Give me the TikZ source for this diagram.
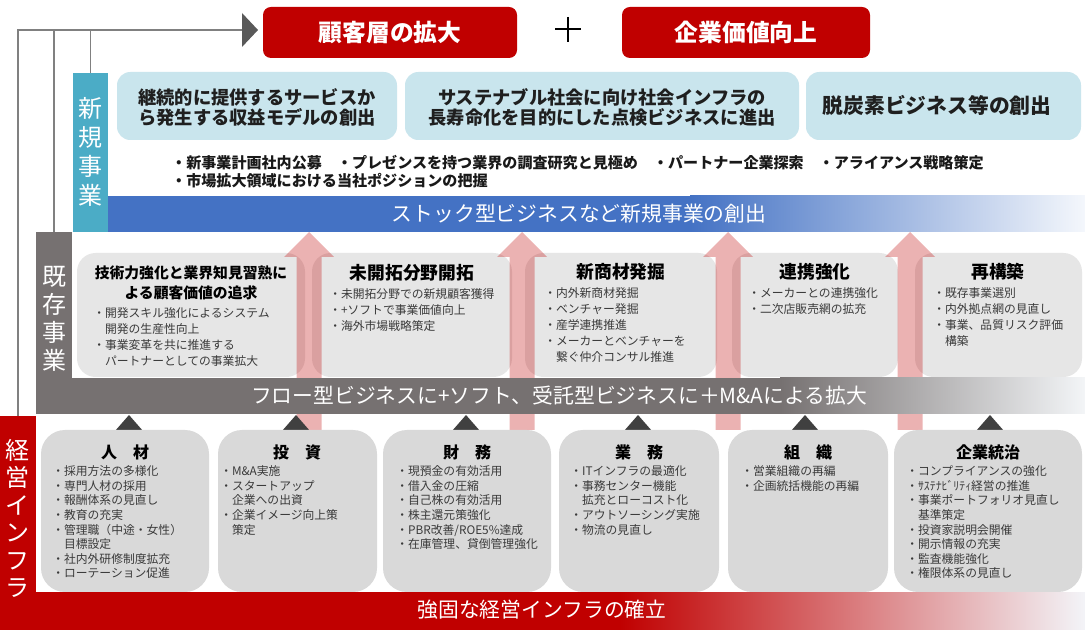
\documentclass[tikz,border=0pt]{standalone}
\usepackage{fontspec}
\setmainfont{Noto Sans CJK JP}
\usetikzlibrary{fit}
\definecolor{cred}{HTML}{C00000}
\definecolor{cteal}{HTML}{4BACC6}
\definecolor{clblue}{HTML}{C9E5ED}
\definecolor{cblue}{HTML}{4472C4}
\definecolor{cblueend}{HTML}{F4F7FC}
\definecolor{cgray}{HTML}{767171}
\definecolor{cgrayend}{HTML}{F3F5F7}
\definecolor{credend}{HTML}{F3F4F8}
\definecolor{cboxa}{HTML}{E6E6E6}
\definecolor{cboxb}{HTML}{D9D9D9}
\definecolor{cline}{HTML}{808080}
\definecolor{chead}{HTML}{595959}
\definecolor{ctri}{HTML}{404040}
\definecolor{ctext}{HTML}{3A3A3A}
\newcommand{\fsz}[2]{\fontsize{#1}{#2}\selectfont}
\newcommand{\pinkarrow}[1]{\fill[pinkar] (#1-12.5,430) -- (#1-12.5,257) -- (#1-25,257) -- (#1,232) -- (#1+25,257) -- (#1+12.5,257) -- (#1+12.5,430) -- cycle;}
\newcommand{\darktri}[1]{\fill[ctri] (#1,415) -- (#1+14,431) -- (#1-14,431) -- cycle;}
\begin{document}
\begin{tikzpicture}[x=0.75pt,y=-0.75pt,
  gline/.style={draw=cline, line width=1.1pt},
  fitbox/.style={inner sep=0pt, outer sep=0pt},
  goalbox/.style={fitbox, fill=cred, rounded corners=6pt},
  goaltext/.style={font={\bfseries\fsz{17.8}{20}}, text=white, inner sep=0pt},
  lbbox/.style={fitbox, fill=clblue, rounded corners=10pt},
  lbtext/.style={font={\bfseries\fsz{13.7}{15}}, text=black!88, align=center, inner sep=0pt},
  sidetext/.style={font=\fsz{18}{21}, text=white, align=center, inner sep=0pt},
  bandtext/.style={font=\fsz{15.6}{18}, text=white, inner sep=0pt},
  exbox/.style={fitbox, fill=cboxa, rounded corners=14pt},
  exhead/.style={font={\bfseries\fsz{13.3}{16}}, text=black, align=center, inner sep=0pt},
  exbul/.style={font=\fsz{8.85}{12}, text=ctext, align=left, inner sep=0pt, anchor=north west},
  inbox/.style={fitbox, fill=cboxb, rounded corners=18pt},
  inhead/.style={font={\bfseries\fsz{12}{14}}, text=black, inner sep=0pt},
  inbul/.style={font=\fsz{8.85}{10.9}, text=ctext, align=left, inner sep=0pt, anchor=north west},
  pinkar/.style={fill=cred, opacity=0.3}]
\useasboundingbox (0,0) rectangle (1085,630);
\fill[white] (0,0) rectangle (1085,630);

% top goals
\node[goalbox, fit={(263,7)(517,58)}] (goal1) {};
\node[goaltext] (goal1t) at (goal1.center) {顧客層の拡大};
\node[goalbox, fit={(622,7)(870,58)}] (goal2) {};
\node[goaltext] (goal2t) at (goal2.center) {企業価値向上};
\draw[line width=1pt, black] (555,29) -- (581,29) (568,17) -- (568,42);

% new business
\node[lbbox, fit={(117,72)(397,140)}] (nb1) {};
\node[lbtext] (nb1t) at (257,107) {継続的に提供するサービスか\\ら発生する収益モデルの創出};
\node[lbbox, fit={(405,72)(799,140)}] (nb2) {};
\node[lbtext] (nb2t) at (602,107) {サステナブル社会に向け社会インフラの\\長寿命化を目的にした点検ビジネスに進出};
\node[lbbox, fit={(806,72)(1081,140)}] (nb3) {};
\node[lbtext, font={\bfseries\fsz{15.6}{18}}] (nb3t) at (937,105) {脱炭素ビジネス等の創出};
\node[font={\bfseries\fsz{11.3}{13.5}}, text=black!90, align=left, inner sep=0pt, anchor=north west] (nbul) at (171,155.2)
  {・新事業計画社内公募　・プレゼンスを持つ業界の調査研究と見極め　・パートナー企業探索　・アライアンス戦略策定\\・市場拡大領域における当社ポジションの把握};

\node[fitbox, fill=cteal, fit={(73,73)(108,232)}] (newbiz) {};
\node[sidetext, font=\fsz{18}{21.75}] (newbizt) at (90.5,152) {新\\規\\事\\業};

\fill[cblue] (108,196) rectangle (691,232);
\shade[left color=cblue, right color=cblueend] (690,196) rectangle (1085,232);
\node[bandtext] (band1) at (579,214) {ストック型ビジネスなど新規事業の創出};

% existing business boxes
\node[exbox, fit={(77,253)(305,377)}] (ex1) {};
\node[exbox, fit={(312,253)(512,377)}] (ex2) {};
\node[exbox, fit={(525,253)(717,377)}] (ex3) {};
\node[exbox, fit={(732,253)(898,377)}] (ex4) {};
\node[exbox, fit={(915,253)(1082,377)}] (ex5) {};

\node[exhead, font={\bfseries\fsz{11.1}{15}}] (ex1h) at (191,283) {技術力強化と業界知見習熟に\\よる顧客価値の追求};
\node[exbul] (ex1b) at (93,307.7) {・開発スキル強化によるシステム\\　開発の生産性向上\\・事業変革を共に推進する\\　パートナーとしての事業拡大};
\node[exhead] (ex2h) at (412,273) {未開拓分野開拓};
\node[exbul] (ex2b) at (329,288.7) {・未開拓分野での新規顧客獲得\\・+ソフトで事業価値向上\\・海外市場戦略策定};
\node[exhead] (ex3h) at (621,272) {新商材発掘};
\node[exbul] (ex3b) at (544,287.7) {・内外新商材発掘\\・ベンチャー発掘\\・産学連携推進\\・メーカーとベンチャーを\\　繋ぐ仲介コンサル推進};
\node[exhead] (ex4h) at (815,272) {連携強化};
\node[exbul] (ex4b) at (748,287.7) {・メーカーとの連携強化\\・二次店販売網の拡充};
\node[exhead] (ex5h) at (998,272) {再構築};
\node[exbul] (ex5b) at (933,287.7) {・既存事業選別\\・内外拠点網の見直し\\・事業、品質リスク評価\\　構築};

% pink arrows
\pinkarrow{309}
\pinkarrow{522}
\pinkarrow{728}
\pinkarrow{910}

% existing side + flow band
\node[fitbox, fill=cgray, fit={(36,232)(72,414)}] (exist) {};
\node[sidetext] (existt) at (54,318.5) {既\\存\\事\\業};
\fill[cgray] (71,378) rectangle (781,414);
\shade[left color=cgray, right color=cgrayend] (780,378) rectangle (1085,414);
\node[bandtext] (band2) at (559,396) {フロー型ビジネスに+ソフト、受託型ビジネスに＋M\&Aによる拡大};

% triangles
\darktri{129}
\darktri{296}
\darktri{466}
\darktri{638}
\darktri{805}
\darktri{990}

% infrastructure boxes
\node[inbox, fit={(41,430)(209,592)}] (in1) {};
\node[inbox, fit={(218,430)(377,592)}] (in2) {};
\node[inbox, fit={(383,430)(551,592)}] (in3) {};
\node[inbox, fit={(559,430)(719,592)}] (in4) {};
\node[inbox, fit={(728,430)(888,592)}] (in5) {};
\node[inbox, fit={(894,430)(1082,592)}] (in6) {};

\node[inhead] (in1h) at (125,452) {人　材};
\node[inbul] (in1b) at (52,465.7) {・採用方法の多様化\\・専門人材の採用\\・報酬体系の見直し\\・教育の充実\\・管理職（中途・女性）\\　目標設定\\・社内外研修制度拡充\\・ローテーション促進};
\node[inhead] (in2h) at (297,452) {投　資};
\node[inbul] (in2b) at (220,465.7) {・M\&A実施\\・スタートアップ\\　企業への出資\\・企業イメージ向上策\\　策定};
\node[inhead] (in3h) at (467,452) {財　務};
\node[inbul] (in3b) at (396,465.7) {・現預金の有効活用\\・借入金の圧縮\\・自己株の有効活用\\・株主還元策強化\\・PBR改善/ROE5\%達成\\・在庫管理、貸倒管理強化};
\node[inhead] (in4h) at (639,452) {業　務};
\node[inbul] (in4b) at (570,465.7) {・ITインフラの最適化\\・事務センター機能\\　拡充とローコスト化\\・アウトソーシング実施\\・物流の見直し};
\node[inhead] (in5h) at (808,452) {組　織};
\node[inbul] (in5b) at (741,465.7) {・営業組織の再編\\・企画統括機能の再編};
\node[inhead] (in6h) at (988,452) {企業統治};
\node[inbul] (in6b) at (906,465.7) {・コンプライアンスの強化\\・ｻｽﾃﾅﾋﾞﾘﾃｨ経営の推進\\・事業ポートフォリオ見直し\\　基準策定\\・投資家説明会開催\\・開示情報の充実\\・監査機能強化\\・権限体系の見直し};

% infra side + red band
\node[fitbox, fill=cred, fit={(0,416)(36,630)}] (infra) {};
\node[sidetext, font=\fsz{18}{20.6}] (infrat) at (18,518.5) {経\\営\\イ\\ン\\フ\\ラ};
\fill[cred] (35,592) rectangle (621,630);
\shade[left color=cred, right color=credend] (620,592) rectangle (1085,630);
\node[bandtext] (band3) at (542,610) {強固な経営インフラの確立};

% connectors to goal
\coordinate (ahead) at (242,30);
\draw[gline] (infra.north) |- (ahead);
\draw[gline] (exist.north) |- (ahead);
\draw[gline] (newbiz.north) |- (ahead);
\fill[chead] (242,13) -- (258,30) -- (242,47) -- cycle;
\end{tikzpicture}
\end{document}
